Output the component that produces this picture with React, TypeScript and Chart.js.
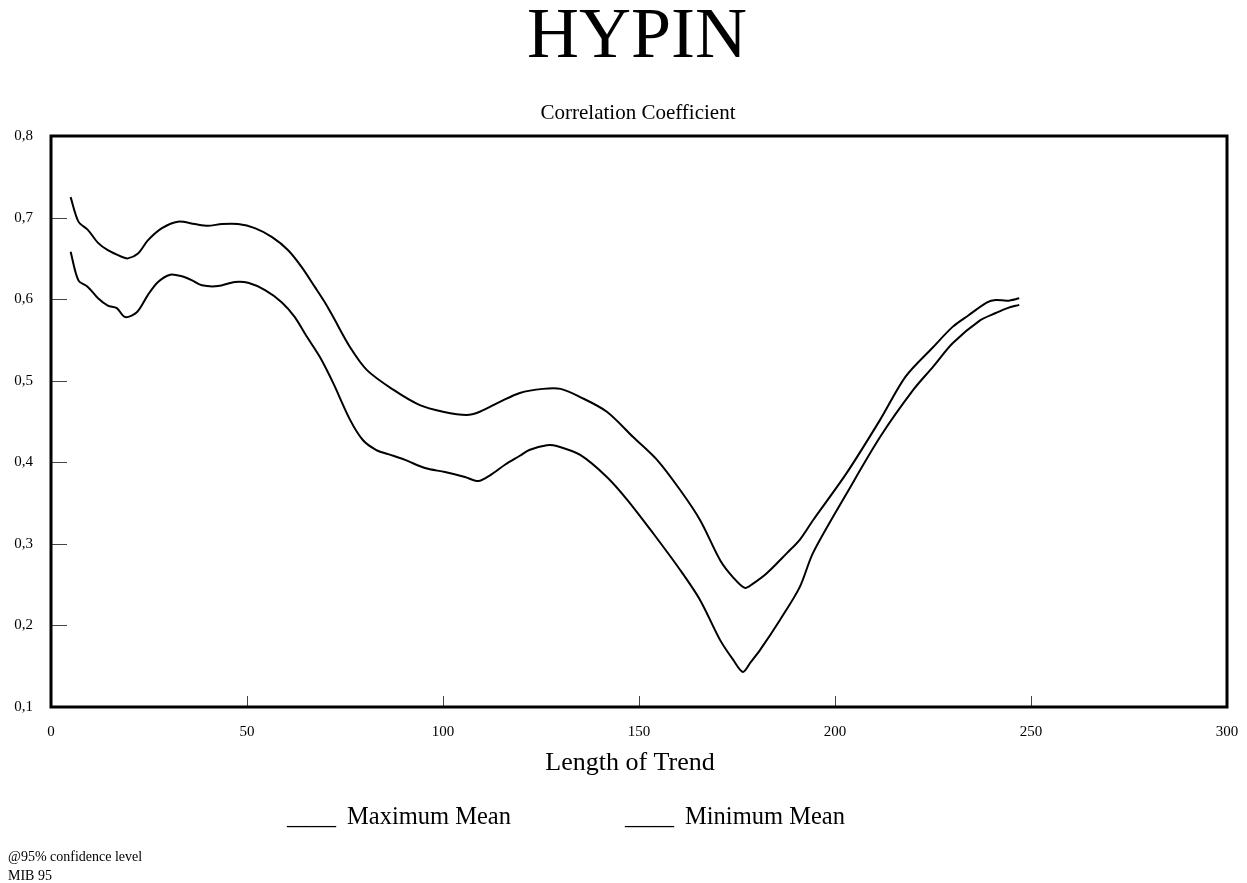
import React, { useEffect, useRef } from "react";
import { Chart, registerables } from "chart.js";

Chart.register(...registerables);

// Trend length (x) and correlation coefficient (y) for the upper band
const maxLength = [5, 7, 9.4, 12, 14.5, 18, 19.6, 22.2, 24.7, 28.3, 32.4, 36.7, 40, 43.6, 47.7, 52, 56.4, 60.5, 64, 67.3, 70, 72, 76.3, 80.6, 87.3, 94.1, 100, 106, 109.4, 114.5, 119.6, 125.5, 130, 135, 141.8, 148.5, 154.6, 160.5, 165.6, 170.7, 174, 177, 179, 182.6, 187.8, 191, 194.4, 203, 211.5, 218, 225, 230, 234, 238.8, 241, 244, 247];
const maxMean = [0.725, 0.695, 0.685, 0.669, 0.66, 0.652, 0.65, 0.656, 0.672, 0.687, 0.695, 0.692, 0.69, 0.692, 0.692, 0.687, 0.676, 0.66, 0.639, 0.615, 0.595, 0.578, 0.541, 0.513, 0.489, 0.47, 0.462, 0.458, 0.462, 0.474, 0.485, 0.49, 0.49, 0.48, 0.462, 0.431, 0.403, 0.366, 0.329, 0.28, 0.259, 0.246, 0.251, 0.264, 0.289, 0.305, 0.329, 0.387, 0.452, 0.505, 0.541, 0.566, 0.58, 0.596, 0.599, 0.598, 0.601];

// Trend length (x) and correlation coefficient (y) for the lower band
const minLength = [5, 7, 9.4, 12, 14.5, 16.8, 18.9, 21.9, 24.7, 27.3, 30.4, 33.4, 36, 38.5, 42.6, 46.9, 50.3, 54.6, 58.9, 62.2, 65, 68.6, 72, 76.3, 79.6, 83, 86, 90.3, 95.4, 100.5, 105.6, 109, 112, 115.8, 119.6, 122, 126.5, 129, 135, 141.8, 147, 153.6, 160.5, 165.6, 170.7, 174, 176.5, 178.5, 180.9, 186, 191, 194.4, 203, 211.5, 220, 225, 230, 237, 241, 244, 247];
const minMean = [0.658, 0.623, 0.615, 0.601, 0.592, 0.589, 0.578, 0.584, 0.605, 0.621, 0.63, 0.628, 0.623, 0.617, 0.616, 0.621, 0.62, 0.611, 0.596, 0.578, 0.556, 0.529, 0.497, 0.452, 0.427, 0.415, 0.41, 0.403, 0.393, 0.388, 0.382, 0.377, 0.384, 0.397, 0.408, 0.415, 0.421, 0.42, 0.409, 0.382, 0.354, 0.313, 0.268, 0.231, 0.182, 0.158, 0.143, 0.155, 0.17, 0.207, 0.247, 0.289, 0.362, 0.431, 0.489, 0.517, 0.546, 0.574, 0.583, 0.589, 0.593];

const seriesNames = ["Maximum Mean", "Minimum Mean"];
const xTicks = [0, 50, 100, 150, 200, 250, 300];
const yTicks = [0.1, 0.2, 0.3, 0.4, 0.5, 0.6, 0.7, 0.8];

const chartTitle = "HYPIN";
const yTitle = "Correlation Coefficient";
const xTitle = "Length of Trend";
const notes = ["@95% confidence level", "MIB 95"];

const SERIF = "'Liberation Serif', 'Times New Roman', serif";

// Frame, inward tick marks and all free-standing text
const decorations = {
  id: "decorations",
  afterDraw(chart: any) {
    const { ctx, chartArea, scales } = chart;
    const { left, right, top, bottom } = chartArea;
    ctx.save();

    // inward ticks
    ctx.strokeStyle = "#444";
    ctx.lineWidth = 1;
    yTicks.slice(1, -1).forEach((v) => {
      const y = Math.round(scales.y.getPixelForValue(v)) + 0.5;
      ctx.beginPath();
      ctx.moveTo(left, y);
      ctx.lineTo(left + 16, y);
      ctx.stroke();
    });
    xTicks.slice(1, -1).forEach((v) => {
      const x = Math.round(scales.x.getPixelForValue(v)) + 0.5;
      ctx.beginPath();
      ctx.moveTo(x, bottom);
      ctx.lineTo(x, bottom - 11);
      ctx.stroke();
    });

    // frame
    ctx.strokeStyle = "#000";
    ctx.lineWidth = 3;
    ctx.strokeRect(left, top, right - left, bottom - top);

    ctx.fillStyle = "#000";
    ctx.textBaseline = "alphabetic";
    ctx.textAlign = "center";
    ctx.font = `72px ${SERIF}`;
    ctx.fillText(chartTitle, 637, 57);
    ctx.font = `21px ${SERIF}`;
    ctx.fillText(yTitle, 638, 119);
    ctx.font = `26px ${SERIF}`;
    ctx.fillText(xTitle, 630, 770);

    // legend: underscore swatch followed by the series name
    ctx.textAlign = "left";
    ctx.font = `24.5px ${SERIF}`;
    ctx.fillText("____", 287, 824);
    ctx.fillText(seriesNames[0], 347, 824);
    ctx.fillText("____", 625, 824);
    ctx.fillText(seriesNames[1], 685, 824);

    ctx.font = `14px ${SERIF}`;
    ctx.fillText(notes[0], 8, 861);
    ctx.fillText(notes[1], 8, 880);
    ctx.restore();
  },
};

export default function App() {
  const canvasRef = useRef<HTMLCanvasElement>(null);

  useEffect(() => {
    const canvas = canvasRef.current;
    if (!canvas) return;
    const chart = new Chart(canvas, {
      type: "line",
      data: {
        datasets: [
          {
            label: seriesNames[0],
            data: maxLength.map((x, i) => ({ x, y: maxMean[i] })),
            borderColor: "#000",
            borderWidth: 2,
            pointRadius: 0,
            tension: 0.3,
            fill: false,
          },
          {
            label: seriesNames[1],
            data: minLength.map((x, i) => ({ x, y: minMean[i] })),
            borderColor: "#000",
            borderWidth: 2,
            pointRadius: 0,
            tension: 0.3,
            fill: false,
          },
        ],
      },
      options: {
        responsive: false,
        animation: false,
        devicePixelRatio: 1,
        layout: { padding: { top: 136, left: 0, right: 20, bottom: 0 } },
        plugins: {
          legend: { display: false },
          tooltip: { enabled: false },
          title: { display: false },
        },
        scales: {
          x: {
            type: "linear",
            min: 0,
            max: 300,
            afterBuildTicks: (s: any) => {
              s.ticks = xTicks.map((value) => ({ value }));
            },
            afterFit: (s: any) => {
              s.height = 176;
              s.paddingLeft = 0;
              s.paddingRight = 0;
            },
            grid: { display: false, drawTicks: false },
            border: { display: false },
            ticks: {
              padding: 16,
              color: "#000",
              font: { family: SERIF, size: 15 },
              maxRotation: 0,
              callback: (v: any) => String(v),
            },
          },
          y: {
            type: "linear",
            min: 0.1,
            max: 0.8,
            afterBuildTicks: (s: any) => {
              s.ticks = yTicks.map((value) => ({ value }));
            },
            afterFit: (s: any) => {
              s.width = 51;
              s.paddingTop = 0;
              s.paddingBottom = 0;
            },
            grid: { display: false, drawTicks: false },
            border: { display: false },
            ticks: {
              padding: 18,
              color: "#000",
              font: { family: SERIF, size: 15 },
              callback: (v: any) => Number(v).toFixed(1).replace(".", ","),
            },
          },
        },
      },
      plugins: [decorations],
    });
    return () => chart.destroy();
  }, []);

  return (
    <div style={{ position: "absolute", left: 0, top: 0, width: 1247, height: 883, background: "#fff" }}>
      <canvas ref={canvasRef} width={1247} height={883} />
    </div>
  );
}
